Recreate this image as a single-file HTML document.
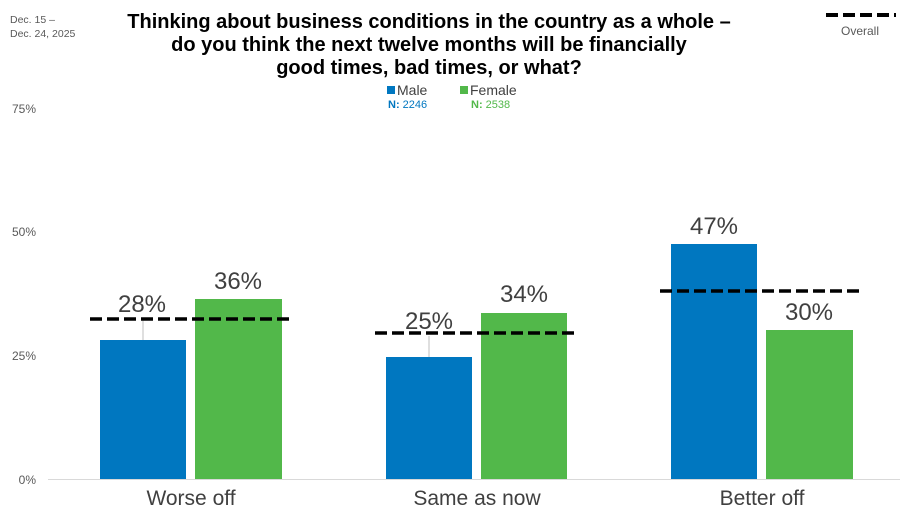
<!DOCTYPE html>
<html><head><meta charset="utf-8"><style>
body{margin:0;background:#fff;}
svg{display:block;font-family:"Liberation Sans",sans-serif;}
</style></head><body>
<svg width="908" height="525" viewBox="0 0 908 525">
<text x="10" y="23" font-size="10.5" fill="#595959">Dec. 15 –</text>
<text x="10" y="37" font-size="10.5" fill="#595959">Dec. 24, 2025</text>
<g font-size="20" font-weight="bold" fill="#000" text-anchor="middle">
<text x="429" y="28">Thinking about business conditions in the country as a whole –</text>
<text x="429" y="51">do you think the next twelve months will be financially</text>
<text x="429" y="74">good times, bad times, or what?</text>
</g>
<line x1="826" y1="15" x2="896" y2="15" stroke="#000" stroke-width="4" stroke-dasharray="12,5"/>
<text x="860" y="35" font-size="12" fill="#595959" text-anchor="middle">Overall</text>
<rect x="387" y="86" width="8" height="8" fill="#0077c0"/>
<text x="397" y="95" font-size="14" fill="#404040">Male</text>
<rect x="460" y="86" width="8" height="8" fill="#52b84a"/>
<text x="470" y="95" font-size="14" fill="#404040">Female</text>
<text x="388" y="108" font-size="11" fill="#0077c0"><tspan font-weight="bold">N:</tspan> 2246</text>
<text x="471" y="108" font-size="11" fill="#52b84a"><tspan font-weight="bold">N:</tspan> 2538</text>
<g font-size="12" fill="#595959" text-anchor="end">
<text x="36" y="113">75%</text><text x="36" y="236">50%</text><text x="36" y="360">25%</text><text x="36" y="484">0%</text>
</g>
<line x1="48" y1="479.5" x2="900" y2="479.5" stroke="#d9d9d9" stroke-width="1"/>
<g fill="#0077c0">
<rect x="100" y="340" width="86" height="139"/>
<rect x="386" y="357" width="86" height="122"/>
<rect x="671" y="244" width="86" height="235"/>
</g>
<g fill="#52b84a">
<rect x="195" y="299" width="87" height="180"/>
<rect x="481" y="313" width="86" height="166"/>
<rect x="766" y="330" width="87" height="149"/>
</g>
<line x1="143" y1="320" x2="143" y2="340" stroke="#bfbfbf"/>
<line x1="429" y1="336" x2="429" y2="357" stroke="#bfbfbf"/>
<g stroke="#000" stroke-width="3.5" stroke-dasharray="12,5">
<line x1="90" y1="319" x2="292" y2="319"/>
<line x1="375" y1="333" x2="578" y2="333"/>
<line x1="660" y1="291" x2="863" y2="291"/>
</g>
<g font-size="24" fill="#404040" text-anchor="middle">
<text x="142" y="312">28%</text>
<text x="238" y="289">36%</text>
<text x="429" y="329">25%</text>
<text x="524" y="302">34%</text>
<text x="714" y="234">47%</text>
<text x="809" y="320">30%</text>
</g>
<g font-size="21" fill="#404040" text-anchor="middle">
<text x="191" y="505">Worse off</text>
<text x="477" y="505">Same as now</text>
<text x="762" y="505">Better off</text>
</g>
</svg>
</body></html>
